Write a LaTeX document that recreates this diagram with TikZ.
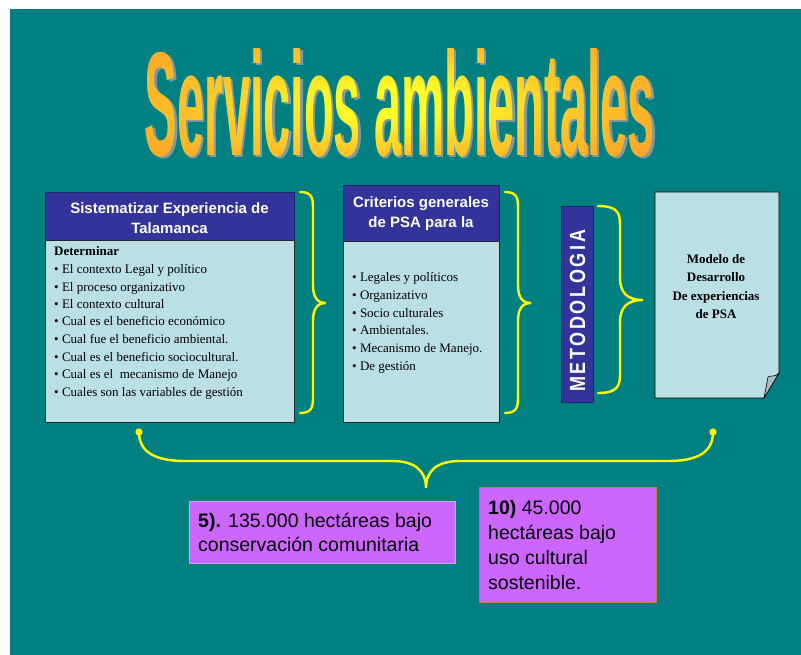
\documentclass[tikz,border=0pt]{standalone}
\usepackage{fontspec}
\setmainfont{Liberation Serif}
\setsansfont{Liberation Sans}
\definecolor{bg}{HTML}{008080}
\definecolor{hdr}{HTML}{333399}
\definecolor{bodyc}{HTML}{BBE0E3}
\definecolor{mag}{HTML}{CC66FF}
\definecolor{ttlbase}{RGB}{255,255,40}
\definecolor{ovin}{RGB}{255,255,255}
\definecolor{ovmid}{RGB}{255,200,255}
\definecolor{ovout}{RGB}{255,155,255}
\definecolor{bracec}{HTML}{FFFF00}
\definecolor{shadowc}{RGB}{140,152,152}
\definecolor{foldc}{HTML}{A8BEC0}
\definecolor{bfiveb}{HTML}{CCCC33}
\definecolor{btenb}{HTML}{C08040}

\pgfdeclareradialshading{titleshade}{\pgfpoint{0bp}{0bp}}{color(0bp)=(ovin); color(3bp)=(ovin); color(11bp)=(ovmid); color(22bp)=(ovout); color(50bp)=(ovout)}

% xl xm xt yt ym yb r
\newcommand\myVBrace[7]{%
\draw[bracestyle] (#1,#4) .. controls ({#2},#4) and ({#2},{#4+0.4*#7}) .. ({#2},{#4+#7})
 -- ({#2},{#5-#7}) .. controls ({#2},{#5-0.35*#7}) and ({#2+0.3*(#3-#2)},#5) .. (#3,#5)
 .. controls ({#2+0.3*(#3-#2)},#5) and ({#2},{#5+0.35*#7}) .. ({#2},{#5+#7})
 -- ({#2},{#6-#7}) .. controls ({#2},{#6-0.4*#7}) and ({#2},#6) .. (#1,#6);}

\begin{document}
\begin{tikzpicture}[x=1pt,y=-1pt,
  titletext/.style={inner sep=0pt, font=\sffamily\bfseries},
  hdrbox/.style={fill=hdr, draw=hdr!70!black, line width=0.6pt, inner sep=0pt},
  bodybox/.style={fill=bodyc, draw=black!85, line width=0.8pt, inner sep=0pt},
  hdrtext/.style={text=white, font=\fontsize{15}{20}\sffamily\bfseries\selectfont, inner sep=0pt, anchor=base},
  bodytext/.style={font=\fontsize{13}{17.5}\selectfont, inner sep=0pt, anchor=base west},
  doctext/.style={font=\fontsize{13}{18}\selectfont\bfseries, inner sep=0pt, anchor=base},
  bigtext/.style={font=\fontsize{19.5}{25}\sffamily\selectfont, inner sep=0pt, anchor=base west},
  bracestyle/.style={draw=bracec, line width=2.4pt, line cap=round}]
\useasboundingbox (0,0) rectangle (801,655);
\fill[white] (0,0) rectangle (801,655);
\fill[bg] (10,9) rectangle (801,655);

% title: shadow, yellow text, orange tint by darken blend
\node[titletext, text=shadowc] (titleshadow) at (402.5,105) {\resizebox{510pt}{107pt}{Servicios ambientales}};
\node[titletext, text=ttlbase] (title) at (400,102.5) {\resizebox{510pt}{107pt}{Servicios ambientales}};
\begin{scope}
  \clip (140,40) rectangle (662,166);
  \shade[shading=titleshade, blend mode=darken] (-8,-8) rectangle (792,212);
\end{scope}

% box 1
\node[hdrbox, minimum width=249pt, minimum height=48pt] (h1) at (169.5,216) {};
\node[bodybox, minimum width=249pt, minimum height=182pt] (b1) at (169.5,331) {};
\node[hdrtext] (h1a) at (169.5,213.5) {Sistematizar Experiencia de};
\node[hdrtext] (h1b) at (169.5,233.5) {Talamanca};
\node[bodytext] (b1t0) at (54,256) {\bfseries Determinar};
\foreach \t [count=\i from 0] in {El contexto Legal y político, El proceso organizativo, El contexto cultural, Cual es el beneficio económico, Cual fue el beneficio ambiental., Cual es el beneficio sociocultural., Cual es el\ \ mecanismo de Manejo, Cuales son las variables de gestión}
  \node[bodytext] (b1l\i) at (54,{273.5+17.5*\i}) {• \t};

% box 2
\node[hdrbox, minimum width=156pt, minimum height=56pt] (h2) at (421,213) {};
\node[bodybox, minimum width=156pt, minimum height=181pt] (b2) at (421,331.5) {};
\node[hdrtext] (h2a) at (421,207.5) {Criterios generales};
\node[hdrtext] (h2b) at (421,227.5) {de PSA para la};
\foreach \t [count=\i from 0] in {Legales y políticos, Organizativo, Socio culturales, Ambientales., Mecanismo de Manejo., De gestión}
  \node[bodytext] (b2l\i) at (352,{282+17.6*\i}) {• \t};

% metodologia
\node[hdrbox, minimum width=32pt, minimum height=196pt] (met) at (577,304) {};
\node[rotate=90, text=white, inner sep=0pt, font=\fontsize{18}{20}\sffamily\bfseries\selectfont] (mettext) at (577.5,311) {\scalebox{1}[1.22]{M\kern2.6pt E\kern2.6pt T\kern2.6pt O\kern2.6pt D\kern2.6pt O\kern2.6pt L\kern2.6pt O\kern2.6pt G\kern2.6pt I\kern2.6pt A}};

% document
\filldraw[fill=bodyc, draw=black, line width=0.8pt] (655,192) -- (779,192) -- (779,373) -- (764,398) -- (655,398) -- cycle;
\filldraw[fill=foldc, draw=black, line width=0.6pt] (764,398) -- (768,377) .. controls (770,375) and (774,378) .. (779,373) -- cycle;
\node[doctext] (d1) at (716,263.5) {Modelo de};
\node[doctext] (d2) at (716,281.8) {Desarrollo};
\node[doctext] (d3) at (716,300.1) {De experiencias};
\node[doctext] (d4) at (716,318.4) {de PSA};

% braces
\myVBrace{300}{313}{326}{192}{303}{413}{18}
\myVBrace{505}{518}{531}{192}{303}{413}{18}
\myVBrace{598}{620}{643}{206}{300}{393}{22}

% bottom brace
\coordinate (bl) at (139,432);
\coordinate (br) at (713,432);
\coordinate (btip) at (426,488);
\draw[bracestyle] (bl) .. controls (139,452) and (155,461) .. (185,461) -- (392,461)
  .. controls (414,461) and (426,470) .. (btip)
  .. controls (426,470) and (438,461) .. (460,461) -- (668,461)
  .. controls (698,461) and (713,452) .. (br);
\fill[bracec] (bl) circle (3.6);
\fill[bracec] (br) circle (3.6);

% box 5 and 10
\node[fill=mag, draw=bfiveb, line width=0.8pt, minimum width=266pt, minimum height=62pt, inner sep=0pt] (b5) at (322,532) {};
\node[bigtext] (b5a) at (198,527) {\textbf{5).} 135.000 hectáreas bajo};
\node[bigtext] (b5b) at (198,551) {conservación comunitaria};
\node[fill=mag, draw=btenb, line width=0.8pt, minimum width=177pt, minimum height=115pt, inner sep=0pt] (b10) at (567.5,544.5) {};
\node[bigtext] (b10a) at (488,514) {\textbf{10)} 45.000};
\node[bigtext] (b10b) at (488,539) {hectáreas bajo};
\node[bigtext] (b10c) at (488,564) {uso cultural};
\node[bigtext] (b10d) at (488,589) {sostenible.};
\end{tikzpicture}
\end{document}
